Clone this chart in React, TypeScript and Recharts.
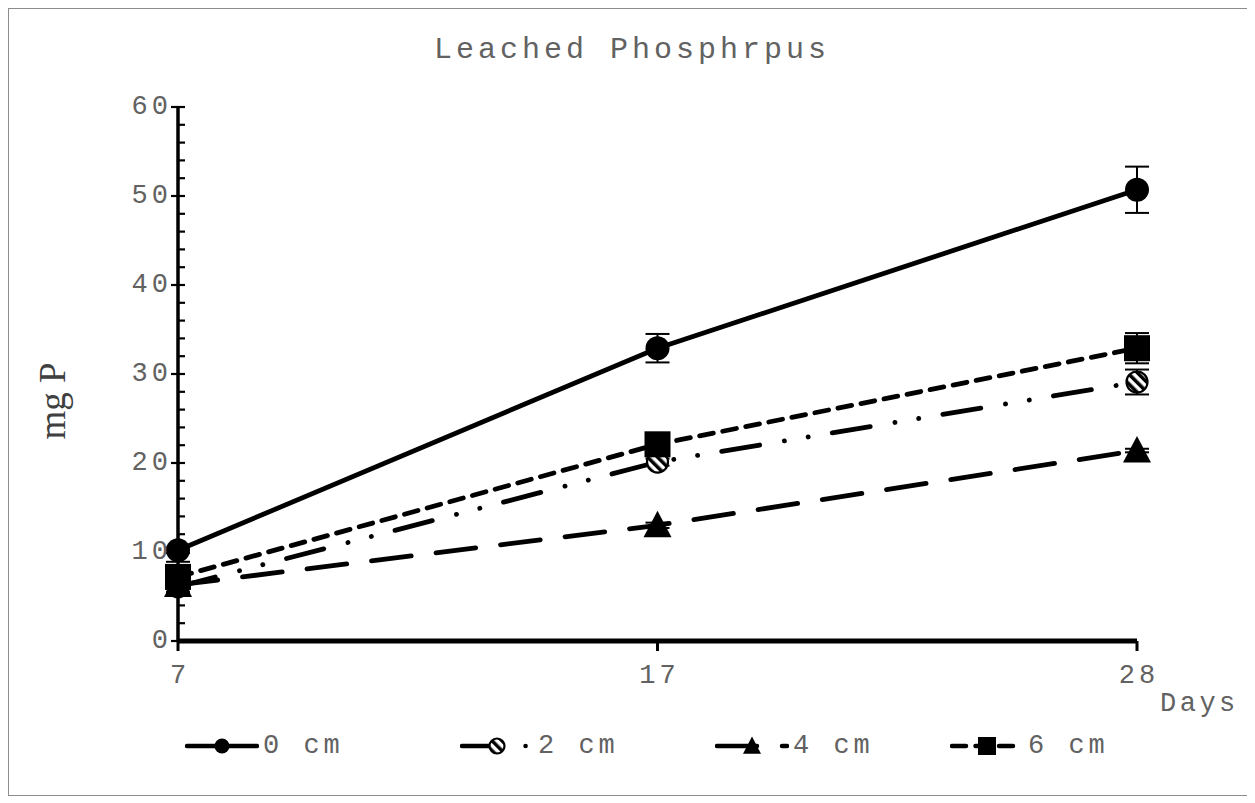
import React from 'react';
import { LineChart, Line, XAxis, YAxis, ErrorBar } from 'recharts';

// ---------- data ----------
const days = ['7', '17', '28'];
const cm0 = [10.2, 32.9, 50.7];
const cm2 = [6.1, 20.1, 29.1];
const cm4 = [6.3, 13.0, 21.4];
const cm6 = [7.2, 22.1, 32.9];
const err0 = [0.3, 1.6, 2.6];
const err2 = [0.3, 0.4, 1.4];
const err4 = [0.2, 0.3, 0.2];
const err6 = [1.7, 0.6, 1.7];
const seriesNames = ['0 cm', '2 cm', '4 cm', '6 cm'];
const yTicks = [0, 2, 4, 6, 8, 10, 12, 14, 16, 18, 20, 22, 24, 26, 28, 30, 32, 34, 36, 38, 40, 42, 44, 46, 48, 50, 52, 54, 56, 58, 60];
const title = 'Leached Phosphrpus';
const yLabel = 'mg P';
const xLabel = 'Days';

const data = days.map((d, i) => ({
  day: d,
  cm0: cm0[i], err0: err0[i],
  cm2: cm2[i], err2: err2[i],
  cm4: cm4[i], err4: err4[i],
  cm6: cm6[i], err6: err6[i],
}));

// ---------- styles ----------
const MONO = '"Liberation Mono", "DejaVu Sans Mono", monospace';
const GRAY = '#626262';
const styles = [
  { key: 'cm0', err: 'err0', dash: undefined as string | undefined, shape: 'circle', size: 12, legendSize: 7.5 },
  { key: 'cm2', err: 'err2', dash: '38.5 25 0.1 24 0.1 24.4', shape: 'hatch', size: 11.5, legendSize: 8.5 },
  { key: 'cm4', err: 'err4', dash: '40 25', shape: 'triangle', size: 14, legendSize: 9 },
  { key: 'cm6', err: 'err6', dash: '14 9.5', shape: 'square', size: 13, legendSize: 9 },
];
const legendLeft = [185, 460, 715, 950];

function Marker({ shape, cx, cy, s, hatchId }: any) {
  if (shape === 'circle') return <circle cx={cx} cy={cy} r={s} fill="#000" />;
  if (shape === 'hatch')
    return <circle cx={cx} cy={cy} r={s - 1} fill={`url(#${hatchId})`} stroke="#000" strokeWidth={2.2} />;
  if (shape === 'triangle') {
    const h = s * 1.9;
    return (
      <polygon
        points={`${cx},${cy - h * 0.55} ${cx - s},${cy + h * 0.45} ${cx + s},${cy + h * 0.45}`}
        fill="#000"
      />
    );
  }
  return <rect x={cx - s} y={cy - s} width={s * 2} height={s * 2} fill="#000" />;
}

function HatchDef({ id }: { id: string }) {
  return (
    <pattern id={id} patternUnits="userSpaceOnUse" width={7} height={7} patternTransform="rotate(-45)">
      <rect x={0} y={0} width={7} height={7} fill="#fff" />
      <rect x={0} y={0} width={3.5} height={7} fill="#000" />
    </pattern>
  );
}

const YTick = (props: any) => {
  const { x, y, payload } = props;
  const major = payload.value % 10 === 0;
  return (
    <g>
      <line x1={major ? x - 7 : x} x2={x + 7} y1={y} y2={y} stroke="#000" strokeWidth={2.2} />
      {major && (
        <text x={x - 6} y={y} textAnchor="end" dominantBaseline="central" fill={GRAY}
          style={{ fontFamily: MONO, fontSize: 27, letterSpacing: 4 }}>
          {payload.value}
        </text>
      )}
    </g>
  );
};

const XTick = (props: any) => {
  const { x, y, payload } = props;
  return (
    <g>
      <line x1={x} x2={x} y1={y} y2={y + 10} stroke="#000" strokeWidth={3} />
      <text x={x + 2} y={y + 35} textAnchor="middle" dominantBaseline="central" fill={GRAY}
        style={{ fontFamily: MONO, fontSize: 27, letterSpacing: 4 }}>
        {payload.value}
      </text>
    </g>
  );
};

export default function App() {
  return (
    <div style={{ position: 'relative', width: 1240, height: 788, border: '1px solid #8c8c8c', boxSizing: 'border-box', background: '#fff' }}>
      <div style={{ position: 'absolute', left: 0, top: 24, width: 1246, textAlign: 'center', fontFamily: MONO, fontSize: 30, letterSpacing: 4, color: GRAY }}>
        {title}
      </div>
      <LineChart width={1238} height={786} data={data} margin={{ top: 98, right: 110, bottom: 94, left: 109 }}>
        <defs>
          <HatchDef id="hatchMain" />
        </defs>
        <XAxis dataKey="day" height={60} tickSize={0} tickMargin={0} tick={<XTick />}
          axisLine={{ stroke: '#000', strokeWidth: 5 }} interval={0}
          label={{
            content: (p: any) => {
              const vb = p.viewBox;
              return (
                <text x={vb.x + vb.width + 23} y={vb.y + 63} dominantBaseline="central" fill={GRAY}
                  style={{ fontFamily: MONO, fontSize: 27, letterSpacing: 3.5 }}>
                  {xLabel}
                </text>
              );
            },
          }}
        />
        <YAxis type="number" domain={[0, 60]} ticks={yTicks} interval={0} width={60} tickSize={0} tickMargin={0}
          tick={<YTick />} axisLine={{ stroke: '#000', strokeWidth: 3.5 }}
          label={{
            content: (p: any) => {
              const vb = p.viewBox;
              const cx = vb.x - 53;
              const cy = vb.y + vb.height / 2 + 27;
              return (
                <text x={cx} y={cy} textAnchor="middle" fill="#404040"
                  transform={`rotate(-90, ${cx}, ${cy})`}
                  style={{ fontFamily: '"Liberation Serif", serif', fontSize: 37 }}>
                  {yLabel}
                </text>
              );
            },
          }}
        />
        {styles.map((st) => (
          <Line
            key={st.key}
            type="linear"
            dataKey={st.key}
            stroke="#000"
            strokeWidth={4.8}
            strokeDasharray={st.dash}
            strokeLinecap="round"
            isAnimationActive={false}
            activeDot={false}
            dot={(p: any) => (
              <Marker key={`${st.key}-${p.index}`} shape={st.shape} cx={p.cx} cy={p.cy} s={st.size} hatchId="hatchMain" />
            )}
          >
            <ErrorBar dataKey={st.err} width={12} strokeWidth={2} stroke="#000" direction="y" />
          </Line>
        ))}
      </LineChart>
      {styles.map((st, i) => (
        <div key={st.key} style={{ position: 'absolute', left: legendLeft[i] - 9, top: 722, display: 'flex', alignItems: 'center', height: 30 }}>
          <svg width={74} height={30} style={{ display: 'block' }}>
            <defs>
              <HatchDef id={`hatchL${i}`} />
            </defs>
            <line x1={2} x2={72} y1={15} y2={15} stroke="#000" strokeWidth={4.5} strokeDasharray={st.dash} strokeLinecap="round" />
            <Marker shape={st.shape} cx={37} cy={15} s={st.legendSize} hatchId={`hatchL${i}`} />
          </svg>
          <span style={{ marginLeft: 4, fontFamily: MONO, fontSize: 27, letterSpacing: 4, color: GRAY, whiteSpace: 'pre' }}>
            {seriesNames[i]}
          </span>
        </div>
      ))}
    </div>
  );
}
